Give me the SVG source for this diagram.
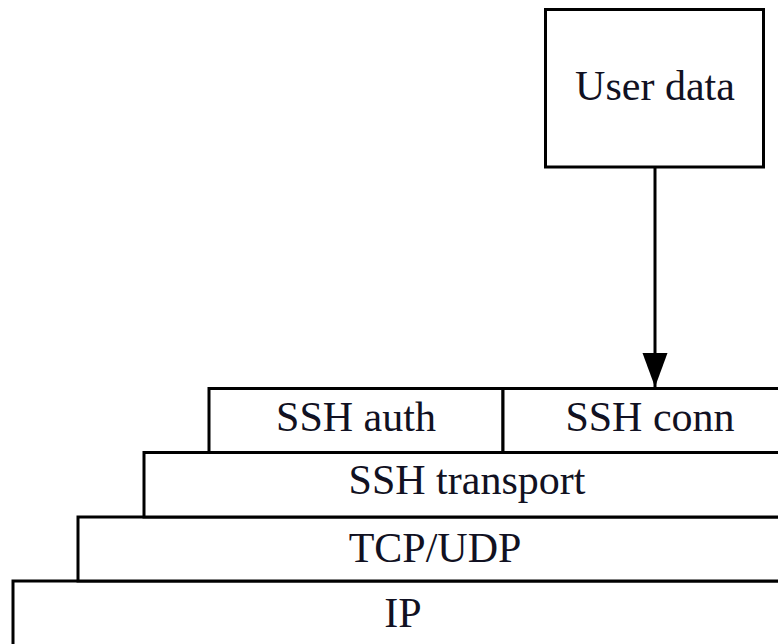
<svg xmlns="http://www.w3.org/2000/svg" width="778" height="644" viewBox="0 0 778 644">
  <style>
    .box { fill: #ffffff; stroke: #000000; stroke-width: 3; }
    .lbl { font-family: "Liberation Serif", "DejaVu Serif", serif; font-size: 42px; fill: #111122; text-anchor: middle; }
    .wire { stroke: #000000; stroke-width: 3; fill: none; }
  </style>
  <defs>
    <marker id="arrow" markerWidth="36" markerHeight="26" refX="34" refY="12.5" orient="auto" markerUnits="userSpaceOnUse">
      <path d="M0,0 L34,12.5 L0,25 Z" fill="#000000"/>
    </marker>
  </defs>
  <rect width="778" height="644" fill="#ffffff"/>

  <!-- protocol stack, bottom layer first so upper layers overlap it -->
  <g id="ip">
    <rect class="box" x="13" y="581" width="800" height="80"/>
    <text class="lbl" x="403" y="627">IP</text>
  </g>
  <g id="tcp-udp">
    <rect class="box" x="78" y="517" width="740" height="64"/>
    <text class="lbl" x="435" y="562">TCP/UDP</text>
  </g>
  <g id="ssh-transport">
    <rect class="box" x="144" y="452.5" width="680" height="64.5"/>
    <text class="lbl" x="467" y="494">SSH transport</text>
  </g>
  <g id="ssh-auth">
    <rect class="box" x="209" y="388.5" width="294" height="64"/>
    <text class="lbl" x="356" y="431">SSH auth</text>
  </g>
  <g id="ssh-conn">
    <rect class="box" x="503" y="388.5" width="300" height="64"/>
    <text class="lbl" x="650" y="431">SSH conn</text>
  </g>

  <g id="user-data">
    <rect class="box" x="545.5" y="9.5" width="218" height="157.5"/>
    <text class="lbl" x="655" y="100">User data</text>
  </g>

  <g id="connectors">
    <line class="wire" x1="655" y1="167" x2="655" y2="387" marker-end="url(#arrow)"/>
  </g>
</svg>
